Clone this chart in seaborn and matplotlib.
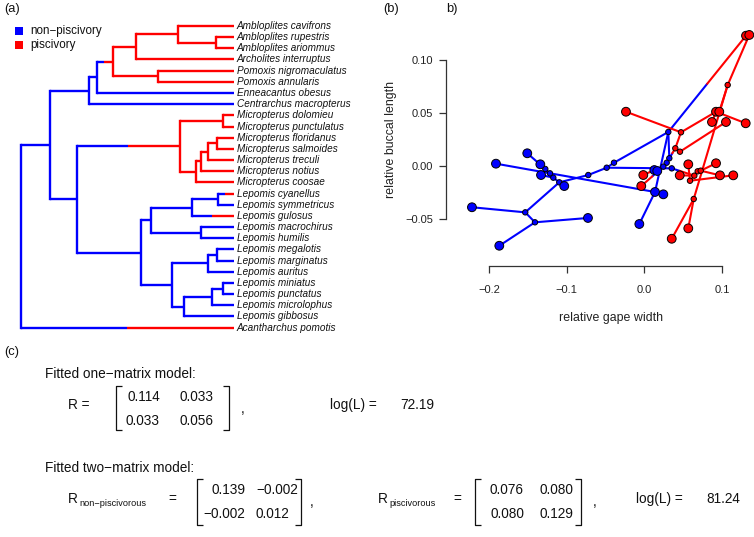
import numpy as np
import pandas as pd
import matplotlib
matplotlib.use("Agg")
import matplotlib.pyplot as plt
import seaborn as sns

sns.set_theme(style="white")
plt.rcParams["font.family"] = ["Liberation Sans", "DejaVu Sans"]

BLUE = "#0000FF"
RED = "#FF0000"
PAL = {"np": BLUE, "p": RED}

# ---------------- panel (a): phylogeny ----------------
tip_names = [
    "Ambloplites cavifrons", "Ambloplites rupestris", "Ambloplites ariommus",
    "Archolites interruptus", "Pomoxis nigromaculatus", "Pomoxis annularis",
    "Enneacantus obesus", "Centrarchus macropterus", "Micropterus dolomieu",
    "Micropterus punctulatus", "Micropterus floridanus", "Micropterus salmoides",
    "Micropterus treculi", "Micropterus notius", "Micropterus coosae",
    "Lepomis cyanellus", "Lepomis symmetricus", "Lepomis gulosus",
    "Lepomis macrochirus", "Lepomis humilis", "Lepomis megalotis",
    "Lepomis marginatus", "Lepomis auritus", "Lepomis miniatus",
    "Lepomis punctatus", "Lepomis microlophus", "Lepomis gibbosus",
    "Acantharchus pomotis",
]
tip_state = ["p"] * 6 + ["np", "np"] + ["p"] * 7 + ["p", "np", "p"] + ["np"] * 9 + ["p"]

node_names = ["root", "A", "B", "D", "E", "F", "H", "I", "G", "C", "J", "L", "M",
              "N", "O", "P", "K", "Q", "S", "U", "T", "R", "V", "X", "W", "Y", "Z"]
node_depth = [0.0, 0.136, 0.319, 0.357, 0.432, 0.538, 0.735, 0.915, 0.641, 0.263,
              0.748, 0.947, 0.823, 0.847, 0.879, 0.918, 0.563, 0.610, 0.803, 0.923,
              0.845, 0.708, 0.876, 0.918, 0.767, 0.898, 0.947]
node_children = [
    ["A", "Acantharchus pomotis"], ["B", "C"], ["D", "Centrarchus macropterus"],
    ["E", "Enneacantus obesus"], ["F", "G"], ["H", "Archolites interruptus"],
    ["Ambloplites cavifrons", "I"], ["Ambloplites rupestris", "Ambloplites ariommus"],
    ["Pomoxis nigromaculatus", "Pomoxis annularis"], ["J", "K"], ["L", "M"],
    ["Micropterus dolomieu", "Micropterus punctulatus"], ["N", "Micropterus coosae"],
    ["O", "Micropterus notius"], ["P", "Micropterus treculi"],
    ["Micropterus floridanus", "Micropterus salmoides"], ["Q", "R"], ["S", "T"],
    ["U", "Lepomis gulosus"], ["Lepomis cyanellus", "Lepomis symmetricus"],
    ["Lepomis macrochirus", "Lepomis humilis"], ["V", "W"], ["X", "Lepomis auritus"],
    ["Lepomis megalotis", "Lepomis marginatus"], ["Y", "Lepomis gibbosus"],
    ["Z", "Lepomis microlophus"], ["Lepomis miniatus", "Lepomis punctatus"],
]
node_state = ["np", "np", "np", "np", "p", "p", "p", "p", "p", "np", "p", "p", "p",
              "p", "p", "p", "np", "np", "np", "np", "np", "np", "np", "np", "np", "np", "np"]
# branches where the state changes from non-piscivory to piscivory (depth of change)
shift_child = ["E", "J", "Acantharchus pomotis", "Lepomis gulosus", "Lepomis cyanellus"]
shift_depth = [0.390, 0.501, 0.498, 0.898, 0.958]

# ---------------- panel (b): phylomorphospace ----------------
pt_id = ["B0", "B1", "B2", "B3", "B4", "B5", "B6", "B7", "B8", "B9", "B10", "B11", "B12",
         "B13", "B14", "B15", "B16", "B17", "B18", "B19", "B20", "B21", "B22", "B23",
         "B24", "B25", "B26",
         "R0", "R1", "R2", "R3", "R4", "R5", "R6", "R7", "R8", "R9", "R10", "R11", "R12",
         "R13", "R14", "R15", "R16", "R17", "R18", "R19", "R20", "R21", "R22", "R23",
         "R24", "R25"]
pt_x = [0.0309, 0.0322, 0.0288, 0.0245, 0.0353, 0.0129, 0.0167, 0.0138, 0.0245, -0.0064,
        -0.0390, -0.0484, -0.0721, -0.1094, -0.1030, -0.1171, -0.1214, -0.1274, -0.1329,
        -0.1338, -0.1506, -0.1909, -0.1532, -0.2218, -0.1407, -0.0725, -0.1866,
        0.1309, 0.1351, 0.1073, 0.0923, 0.0965, 0.0871, 0.1051, 0.1305, -0.0236, 0.0472,
        0.0399, 0.0459, -0.0013, -0.0039, 0.0566, 0.0456, 0.0923, 0.0974, 0.1145, 0.0588,
        0.0644, 0.0687, 0.0726, 0.0636, 0.0566, 0.0353]
pt_y = [0.0318, 0.0070, 0.0028, -0.0009, -0.0025, -0.0041, -0.0050, -0.0248, -0.0270,
        -0.0550, 0.0028, -0.0019, -0.0088, -0.0157, -0.0192, -0.0113, -0.0072, -0.0031,
        -0.0088, 0.0013, 0.0117, 0.0019, -0.0440, -0.0392, -0.0534, -0.0493, -0.0755,
        0.1226, 0.1233, 0.0761, 0.0509, 0.0509, 0.0412, 0.0412, 0.0400, 0.0509, 0.0315,
        0.0164, 0.0132, -0.0088, -0.0192, 0.0013, -0.0091, 0.0023, -0.0091, -0.0091,
        -0.0142, -0.0094, -0.0053, -0.0047, -0.0314, -0.0591, -0.0689]
pt_state = ["np"] * 27 + ["p"] * 26
node_pts = {"B0", "B1", "B2", "B3", "B4", "B10", "B11", "B12", "B13", "B15", "B16", "B17",
            "B22", "B24", "R2", "R9", "R10", "R11", "R19", "R20", "R21", "R22", "R23"}
pt_kind = ["node" if p in node_pts else "tip" for p in pt_id]

edge_from = ["B0", "B0", "B10", "B11", "B12", "B13", "B13", "B15", "B15", "B16", "B17",
             "B17", "B13", "B22", "B22", "B24", "B24", "B11", "B0", "B1", "B2", "B3",
             "B0", "B7", "B7", "B7", "B5", "B3", "B4", "B1",
             "R10", "R10", "R9", "R9", "R3", "R3", "R3", "R11", "R4", "R2", "R2", "R23",
             "R23", "R20", "R20", "R21", "R22", "R22", "R20", "R19", "R19"]
edge_to = ["R0", "B10", "B11", "B12", "B13", "B14", "B15", "B18", "B16", "B17", "B20",
           "B19", "B22", "B23", "B24", "B25", "B26", "B4", "B1", "B2", "B3", "B5",
           "B7", "B9", "B8", "B21", "R12", "R13", "R20", "R10",
           "R9", "R11", "R8", "R3", "R7", "R5", "R4", "R6", "R2", "R1", "R23", "R24",
           "R25", "R19", "R21", "R22", "R16", "R17", "R15", "R14", "R18"]
# fraction along the edge where colour switches from blue to red (nan = no switch)
edge_shift = [0.5] + [np.nan] * 25 + [0.4, 0.5, 0.35, 0.5] + [np.nan] * 21

# ---------------- panel (c): fitted models ----------------
R_one = [[0.114, 0.033], [0.033, 0.056]]
logL_one = 72.19
R_nonpisc = [[0.139, -0.002], [-0.002, 0.012]]
R_pisc = [[0.076, 0.080], [0.080, 0.129]]
logL_two = 81.24

# ======================================================
W, H = 754, 537
fig = plt.figure(figsize=(W / 100, H / 100), dpi=100)


def rect(l, t, r, b):
    return [l / W, 1 - b / H, (r - l) / W, (b - t) / H]


# overlay axes in pixel coordinates for annotations
ov = fig.add_axes([0, 0, 1, 1], zorder=0)
ov.set_xlim(0, W)
ov.set_ylim(H, 0)
ov.axis("off")

# ---- tree
axa = fig.add_axes(rect(21, 20.4, 234, 333.2))
axa.set_xlim(0, 1)
axa.set_ylim(27.5, -0.5)
axa.axis("off")

ypos = {n: i for i, n in enumerate(tip_names)}
state = dict(zip(tip_names, tip_state))
state.update(dict(zip(node_names, node_state)))
depth = {n: 1.0 for n in tip_names}
depth.update(dict(zip(node_names, node_depth)))
children = dict(zip(node_names, node_children))
shift = dict(zip(shift_child, shift_depth))


def get_y(n):
    if n in ypos:
        return ypos[n]
    c = children[n]
    ypos[n] = (get_y(c[0]) + get_y(c[-1])) / 2
    return ypos[n]


get_y("root")
LW = 1.7
for n in node_names:
    c = children[n]
    axa.plot([depth[n]] * 2, [ypos[c[0]], ypos[c[-1]]], color=PAL[state[n]], lw=LW,
             solid_capstyle="projecting", clip_on=False)
    for ch in c:
        y = ypos[ch]
        if ch in shift:
            axa.plot([depth[n], shift[ch]], [y, y], color=BLUE, lw=LW,
                     solid_capstyle="butt", clip_on=False)
            axa.plot([shift[ch], depth[ch]], [y, y], color=RED, lw=LW,
                     solid_capstyle="butt", clip_on=False)
        else:
            axa.plot([depth[n], depth[ch]], [y, y], color=PAL[state[ch]], lw=LW,
                     solid_capstyle="butt", clip_on=False)
for t in tip_names:
    axa.text(1.014, ypos[t], t, ha="left", va="center", fontsize=7.2,
             style="italic", color="#111111")

# legend
ov.scatter([19.2, 19.2], [31, 45], marker="s", s=34, c=[BLUE, RED], linewidths=0)
ov.text(30.5, 31, "non\u2212piscivory", fontsize=8.4, va="center", ha="left", color="#111111")
ov.text(30.5, 45, "piscivory", fontsize=8.4, va="center", ha="left", color="#111111")
ov.text(4.5, 9, "(a)", fontsize=9.3, va="center", ha="left", color="#111111")

# ---- phylomorphospace
axb = fig.add_axes(rect(462, 27, 752, 252))
axb.set_xlim(-0.2346, 0.1386)
axb.set_ylim(-0.0814, 0.1308)

P = pd.DataFrame({"id": pt_id, "x": pt_x, "y": pt_y, "state": pt_state, "kind": pt_kind})
P = P.set_index("id", drop=False)

rows = []
for k, (a, b, f) in enumerate(zip(edge_from, edge_to, edge_shift)):
    xa, ya = P.loc[a, "x"], P.loc[a, "y"]
    xb, yb = P.loc[b, "x"], P.loc[b, "y"]
    if np.isnan(f):
        st = P.loc[b, "state"]
        rows += [(f"{k}", xa, ya, st), (f"{k}", xb, yb, st)]
    else:
        xm, ym = xa + f * (xb - xa), ya + f * (yb - ya)
        rows += [(f"{k}a", xa, ya, "np"), (f"{k}a", xm, ym, "np"),
                 (f"{k}b", xm, ym, "p"), (f"{k}b", xb, yb, "p")]
S = pd.DataFrame(rows, columns=["seg", "x", "y", "state"])

sns.lineplot(data=S, x="x", y="y", units="seg", hue="state", palette=PAL,
             estimator=None, sort=False, lw=1.5, legend=False, ax=axb, zorder=2)
sns.scatterplot(data=P, x="x", y="y", hue="state", palette=PAL, size="kind",
                sizes={"tip": 40, "node": 15}, edgecolor="black", linewidth=0.7,
                legend=False, ax=axb, zorder=3, clip_on=False)

for s in ["top", "right"]:
    axb.spines[s].set_visible(False)
axb.spines["left"].set_position(("outward", 11.7))
axb.spines["bottom"].set_position(("outward", 10.1))
axb.spines["left"].set_bounds(-0.05, 0.10)
axb.spines["bottom"].set_bounds(-0.2, 0.1)
for s in ["left", "bottom"]:
    axb.spines[s].set_color("#333333")
    axb.spines[s].set_linewidth(0.9)
axb.set_xticks([-0.2, -0.1, 0.0, 0.1])
axb.set_xticklabels(["\u22120.2", "\u22120.1", "0.0", "0.1"])
axb.set_yticks([-0.05, 0.0, 0.05, 0.10])
axb.set_yticklabels(["\u22120.05", "0.00", "0.05", "0.10"])
axb.tick_params(axis="both", which="both", direction="out", length=5, width=0.9,
                color="#333333", labelsize=8, labelcolor="#222222", left=True, bottom=True)
axb.tick_params(axis="x", pad=9)
axb.tick_params(axis="y", pad=4)
axb.set_xlabel("")
axb.set_ylabel("")
axb.set_facecolor("none")

ov.text(610.8, 318.3, "relative gape width", fontsize=8.9, ha="center", va="center",
        color="#222222")
ov.text(391, 140, "relative buccal length", fontsize=8.9, ha="center", va="center",
        rotation=90, color="#222222")
ov.text(383, 9, "(b)", fontsize=9.3, va="center", ha="left", color="#111111")
ov.text(446.5, 9, "b)", fontsize=9.3, va="center", ha="left", color="#111111")

# ---- panel (c)
TC = "#111111"
FS = 9.8


def fmt(v):
    return f"{v:.3f}".replace("-", "\u2212")


def bracket_matrix(xl, xr, ytop, ybot, M, col1_right, col2_left, rows_y):
    for xb, d in [(xl, 1), (xr, -1)]:
        ov.plot([xb + 6 * d, xb, xb, xb + 6 * d], [ytop, ytop, ybot, ybot],
                color=TC, lw=0.9, solid_capstyle="butt")
    for i, ry in enumerate(rows_y):
        ov.text(col1_right, ry, fmt(M[i][0]), fontsize=FS, ha="right", va="center", color=TC)
        ov.text(col2_left, ry, fmt(M[i][1]), fontsize=FS, ha="left", va="center", color=TC)


ov.text(4, 352, "(c)", fontsize=9.3, ha="left", va="center", color=TC)
ov.text(45, 374, "Fitted one\u2212matrix model:", fontsize=FS, ha="left", va="center", color=TC)
ov.text(68, 405, "R =", fontsize=FS, ha="left", va="center", color=TC)
bracket_matrix(116, 229, 386, 430, R_one, 160, 180, [397, 421])
ov.text(241, 409, ",", fontsize=FS, ha="left", va="center", color=TC)
ov.text(330, 405, "log(L) =", fontsize=FS, ha="left", va="center", color=TC)
ov.text(400, 405, f"{logL_one:.2f}", fontsize=FS, ha="left", va="center", color=TC)

ov.text(45, 468, "Fitted two\u2212matrix model:", fontsize=FS, ha="left", va="center", color=TC)
ov.text(68, 499, "R", fontsize=FS, ha="left", va="center", color=TC)
ov.text(79, 503, "non\u2212piscivorous", fontsize=6.6, ha="left", va="center", color=TC)
ov.text(168, 499, "=", fontsize=FS, ha="left", va="center", color=TC)
bracket_matrix(197, 301, 479, 525, R_nonpisc, 245, 256, [490, 514])
ov.text(310, 502, ",", fontsize=FS, ha="left", va="center", color=TC)
ov.text(378, 499, "R", fontsize=FS, ha="left", va="center", color=TC)
ov.text(389, 503, "piscivorous", fontsize=6.6, ha="left", va="center", color=TC)
ov.text(453, 499, "=", fontsize=FS, ha="left", va="center", color=TC)
bracket_matrix(475, 581, 479, 525, R_pisc, 524, 540, [490, 514])
ov.text(593, 502, ",", fontsize=FS, ha="left", va="center", color=TC)
ov.text(636, 499, "log(L) =", fontsize=FS, ha="left", va="center", color=TC)
ov.text(706, 499, f"{logL_two:.2f}", fontsize=FS, ha="left", va="center", color=TC)

fig.savefig("out.png", dpi=100)
